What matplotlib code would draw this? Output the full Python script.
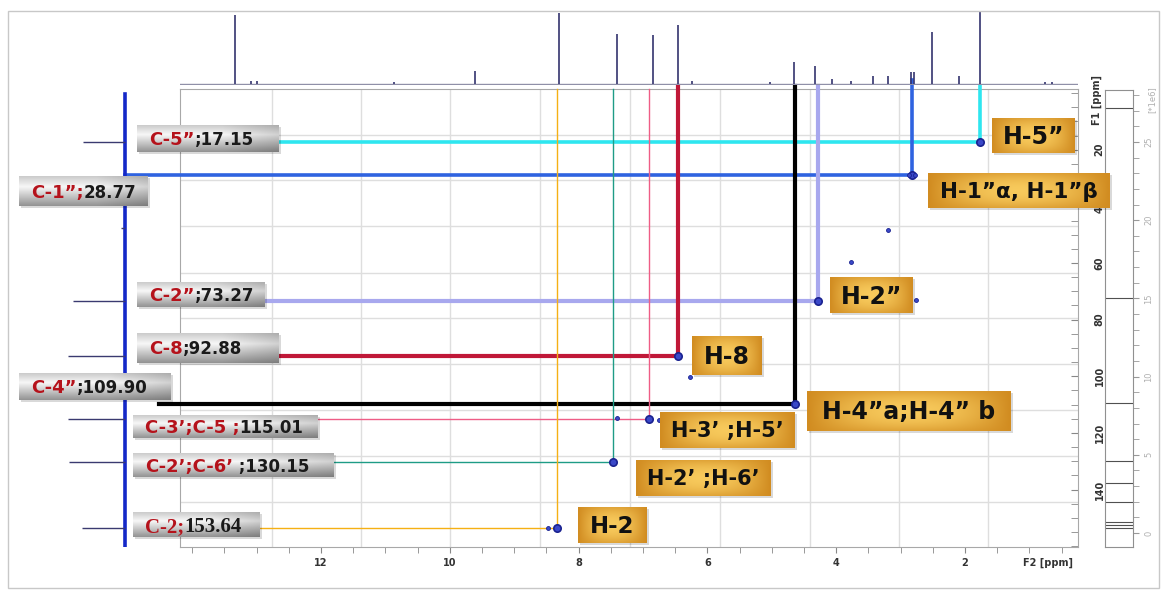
import numpy as np
import matplotlib
matplotlib.use("Agg")
import matplotlib.pyplot as plt
from matplotlib.patches import Rectangle
from matplotlib.ticker import MultipleLocator

W, H = 1165, 593

# 1H trace on top: shift (ppm) and peak height
h_shift = [13.34, 13.09, 13.00, 10.87, 9.61, 8.30, 7.41, 6.85, 6.46, 6.24, 5.03,
           4.65, 4.33, 4.07, 3.77, 3.43, 3.20, 2.84, 2.79, 2.51, 2.10, 1.77, 0.75, 0.65]
h_height = [69, 3, 3, 2, 13, 71, 50, 49, 59, 3, 2,
            22, 18, 5, 3, 8, 8, 12, 12, 52, 8, 72, 2, 2]

# 13C trace on the left: shift (ppm) and peak height
c_shift = [17.15, 47.6, 73.27, 92.88, 115.01, 130.15, 153.64]
c_height = [42, 4, 52, 57, 57, 56, 43]

# assigned correlations
c_ppm = [17.15, 28.77, 73.27, 92.88, 109.90, 115.01, 130.15, 153.64]
h_ppm = [1.77, 2.82, 4.28, 6.46, 4.64, 6.91, 7.47, 8.33]
c_red = ["C-5”", "C-1”;", "C-2”", "C-8", "C-4”", "C-3’;C-5 ;", "C-2’;C-6’", "C-2;"]
c_sep = [";", "", ";", ";", ";", "", " ;", ""]
h_labels = ["H-5”", "H-1”α, H-1”β", "H-2”", "H-8", "H-4”a;H-4” b",
            "H-3’ ;H-5’", "H-2’ ;H-6’", "H-2"]

# other cross peaks
extra_h = [3.20, 3.77, 2.76, 6.27, 7.40, 6.75, 8.47, 2.87, 2.77]
extra_c = [48.3, 59.6, 73.1, 100.2, 114.7, 115.5, 153.6, 28.77, 28.77]

# gridlines of the 2D plot
grid_h = [12.76, 11.38, 10.0, 8.60, 7.20, 5.80, 4.41, 3.02, 1.64]
grid_c = [14.8, 30.7, 46.9, 63.5, 79.4, 95.7, 111.9, 128.1, 144.4]

# right hand strip
panel_lines = [27.2, 15.0, 8.3, 4.6, 3.2, 1.98, 0.70, 0.51, 0.32]

# styles
line_colors = ["#2ee6ef", "#2f63e0", "#a8a8ee", "#c01838", "#000000",
               "#ef5d86", "#1e9c86", "#f5b014"]
line_widths = [2.6, 2.6, 3.0, 3.0, 3.0, 1.0, 1.0, 1.0]
line_start = [14.19, 15.04, 14.19, 14.19, 14.52, 14.19, 14.19, 14.19]
line_top = [-2.5, -4.5, -2.5, -2.5, -2.5, -1.4, -1.4, -1.4]

c_boxes = [(137, 125, 279, 152), (19, 176, 148, 206), (137, 282, 265, 307),
           (137, 333, 279, 363), (19, 373, 171, 400), (133, 415, 318, 438),
           (133, 453, 334, 477), (133, 512, 260, 537)]
h_boxes = [(992, 118, 1075, 153), (928, 173, 1110, 208), (830, 277, 913, 313),
           (692, 336, 762, 375), (807, 391, 1011, 431), (660, 412, 795, 448),
           (636, 460, 771, 496), (578, 507, 647, 543)]
h_sizes = [17, 15.5, 17, 17, 17, 15, 15, 16.5]


def rect(x0, y0, x1, y1):
    return [x0 / W, 1 - y1 / H, (x1 - x0) / W, (y1 - y0) / H]


fig = plt.figure(figsize=(W / 100, H / 100), dpi=100)
fig.patch.set_facecolor("white")

# main HSQC axes
ax = fig.add_axes(rect(180, 89, 1078, 547))
ax.set_xlim(14.19, 0.245)
ax.set_ylim(160.3, -1.45)
for g in grid_h:
    ax.axvline(g, color="#dedede", lw=1, zorder=0)
for g in grid_c:
    ax.axhline(g, color="#dedede", lw=1, zorder=0)
for s in ax.spines.values():
    s.set_color("#a8a8a8")
ax.set_xticks([12, 10, 8, 6, 4, 2])
ax.xaxis.set_minor_locator(MultipleLocator(0.5))
ax.tick_params(axis="x", which="both", direction="out", length=4, color="#888888",
               labelsize=7, pad=4, labelcolor="#333333")
ax.yaxis.tick_right()
ax.set_yticks([20, 40, 60, 80, 100, 120, 140])
ax.yaxis.set_minor_locator(MultipleLocator(5))
ax.tick_params(axis="y", which="both", direction="in", length=5, color="#888888",
               labelsize=7, pad=12, labelcolor="#333333", labelrotation=90)
for t in ax.get_xticklabels() + ax.get_yticklabels():
    t.set_fontweight("bold")
for t in ax.get_yticklabels():
    t.set_va("center")

for i in range(len(c_ppm)):
    ax.plot([line_start[i], h_ppm[i], h_ppm[i]], [c_ppm[i], c_ppm[i], line_top[i]],
            color=line_colors[i], lw=line_widths[i], clip_on=False, zorder=3,
            solid_joinstyle="miter")
ax.scatter(h_ppm, c_ppm, s=28, facecolor="#3a48c8", edgecolor="#1a2290", lw=1.2, zorder=4)
ax.scatter(extra_h, extra_c, s=8, facecolor="#3a48c8", edgecolor="#1a2290", lw=0.6, zorder=4)

# 1H trace
ax_h = fig.add_axes(rect(180, 10, 1078, 85))
ax_h.set_xlim(14.19, 0.245)
ax_h.set_ylim(-1, 74)
ax_h.axis("off")
ax_h.axhline(0, color="#9090a8", lw=1)
ax_h.vlines(h_shift, 0, h_height, color="#34346e", lw=1.2)

# 13C trace
ax_c = fig.add_axes(rect(60, 89, 131, 547))
ax_c.set_xlim(-65, 6)
ax_c.set_ylim(160.3, -1.45)
ax_c.axis("off")
ax_c.axvline(0, ymin=0, ymax=0.99, color="#1428c8", lw=2.6)
ax_c.hlines(c_shift, -np.array(c_height), 0, color="#3a3a70", lw=1)

# right strip
ax_r = fig.add_axes(rect(1105, 90, 1133, 547))
ax_r.set_xlim(0, 1)
ax_r.set_ylim(-0.895, 28.32)
ax_r.hlines(panel_lines, 0, 1, color="#505050", lw=0.8)
ax_r.set_xticks([])
ax_r.yaxis.tick_right()
ax_r.set_yticks([0, 5, 10, 15, 20, 25])
ax_r.yaxis.set_minor_locator(MultipleLocator(1))
ax_r.tick_params(axis="y", which="both", length=4, color="#999999", labelsize=6,
                 labelcolor="#b0b0b0", labelrotation=90, pad=4)
for t in ax_r.get_yticklabels():
    t.set_va("center")
for s in ax_r.spines.values():
    s.set_color("#909090")

# overlay for frame, label boxes and texts (pixel coordinates)
ov = fig.add_axes([0, 0, 1, 1], zorder=10)
ov.patch.set_alpha(0)
ov.axis("off")
ov.add_patch(Rectangle((8, 11), 1151, 577, fill=False, ec="#c8c8c8", lw=1))

nx, ny = 64, 32
sx = np.linspace(0, 1, nx)[None, :]
ty = np.linspace(0, 1, ny)[:, None]
gray_v = np.interp(ty, [0, 0.35, 1], [0.80, 0.97, 0.58]) * np.interp(sx, [0, 0.6, 1], [1.0, 1.0, 0.85])
gray_img = np.repeat(gray_v[:, :, None], 3, axis=2)
f = (1 - np.abs(2 * sx - 1) ** 2) * (1 - 0.6 * np.abs(2 * ty - 1) ** 2)
gold_c = np.array([0.97, 0.79, 0.36])
gold_e = np.array([0.82, 0.55, 0.13])
gold_img = gold_e + (gold_c - gold_e) * f[:, :, None]


def draw_box(b, img):
    x0, y0, x1, y1 = b
    ov.add_patch(Rectangle((x0 + 2, y0 + 2), x1 - x0, y1 - y0, color="black",
                           alpha=0.15, lw=0))
    ov.imshow(img, extent=(x0, x1, y1, y0), aspect="auto", interpolation="bilinear",
              zorder=2)


renderer = fig.canvas.get_renderer()
for i, b in enumerate(c_boxes):
    draw_box(b, gray_img)
    x0, y0, x1, y1 = b
    yc = (y0 + y1) / 2
    if i == 7:
        fam, rs, bs = "Liberation Serif", 15, 15
    else:
        fam, rs, bs = "DejaVu Sans", 13, 12
    base = yc + 0.72 * rs * 100 / 72 / 2
    t = ov.text(x0 + 12, base, c_red[i], color="#b5121b", fontsize=rs,
                fontweight="bold", family=fam, va="baseline", ha="left", zorder=3)
    w = t.get_window_extent(renderer=renderer).width
    ov.text(x0 + 12 + w, base, c_sep[i] + f"{c_ppm[i]:.2f}", color="#1a1a1a",
            fontsize=bs, fontweight="bold", family=fam, va="baseline", ha="left", zorder=3)

for i, b in enumerate(h_boxes):
    draw_box(b, gold_img)
    x0, y0, x1, y1 = b
    base = (y0 + y1) / 2 + 0.72 * h_sizes[i] * 100 / 72 / 2
    ov.text((x0 + x1) / 2, base, h_labels[i], color="#111111", fontsize=h_sizes[i],
            fontweight="bold", va="baseline", ha="center", zorder=3)

ov.text(1048, 563, "F2 [ppm]", fontsize=7, fontweight="bold", color="#333333",
        ha="center", va="center")
ov.text(1097, 100, "F1 [ppm]", fontsize=7, fontweight="bold", color="#333333",
        ha="center", va="center", rotation=90)
ov.text(1152, 100, "[*1e6]", fontsize=6, color="#b0b0b0", ha="center", va="center",
        rotation=90)
ov.set_xlim(0, W)
ov.set_ylim(H, 0)

fig.savefig("out.png", dpi=100)
